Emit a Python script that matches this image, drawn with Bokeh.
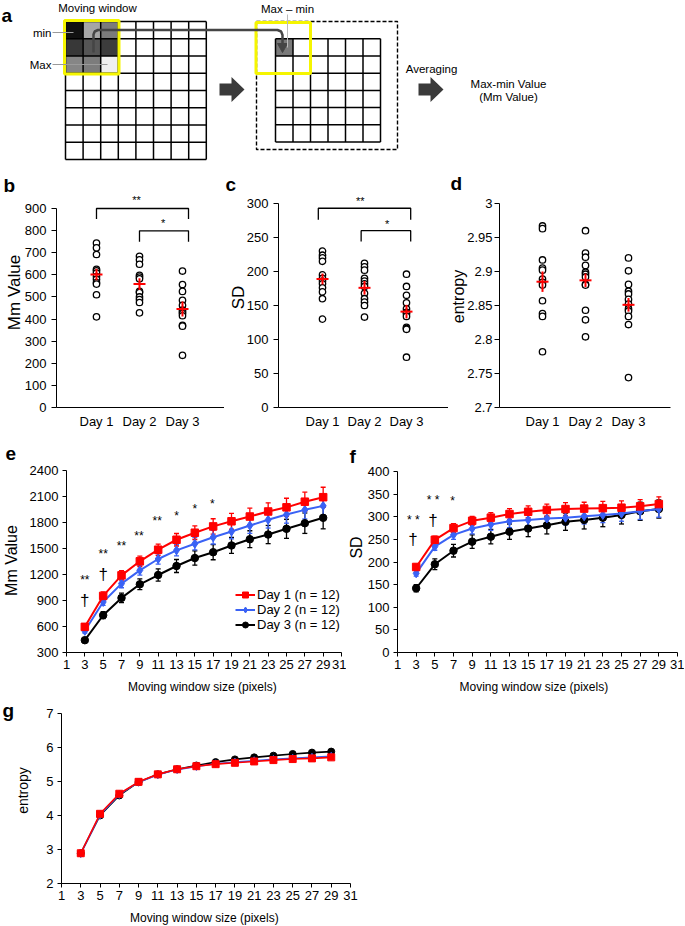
import math
from bokeh.plotting import figure
from bokeh.layouts import column, row
from bokeh.models import (Range1d, FixedTicker, Whisker, TeeHead,
                          ColumnDataSource, Legend, LegendItem, CustomJSTickFormatter)
from bokeh.core.properties import value
from bokeh.embed import file_html
from bokeh.resources import INLINE

FONT = "Liberation Sans"
RED = "#ff0000"
BLUE = "#3a62f5"
BLACK = "#000000"

# ---------------- data ----------------
days = ["Day 1", "Day 2", "Day 3"]
day_pos = [1, 2, 3]

mm_day1 = [744, 722, 692, 625, 618, 608, 592, 580, 565, 558, 510, 410]
mm_day2 = [684, 668, 648, 598, 590, 582, 525, 520, 500, 488, 475, 428]
mm_day3 = [617, 556, 525, 485, 462, 440, 432, 425, 415, 372, 368, 236]
mm_mean = [602, 558, 445]
mm_sem = [26, 27, 34]

sd_day1 = [230, 224, 220, 215, 195, 190, 186, 182, 176, 170, 160, 130]
sd_day2 = [212, 207, 202, 190, 186, 182, 178, 168, 160, 155, 150, 133]
sd_day3 = [196, 178, 165, 154, 145, 140, 138, 134, 118, 116, 115, 74]
sd_mean = [189, 176, 141]
sd_sem = [8, 10, 10]

ent_day1 = [2.967, 2.963, 2.917, 2.905, 2.902, 2.889, 2.884, 2.880, 2.857, 2.838, 2.834, 2.782]
ent_day2 = [2.960, 2.927, 2.921, 2.909, 2.899, 2.896, 2.892, 2.881, 2.880, 2.843, 2.829, 2.804]
ent_day3 = [2.920, 2.901, 2.881, 2.871, 2.867, 2.859, 2.852, 2.845, 2.842, 2.834, 2.822, 2.744]
ent_mean = [2.885, 2.887, 2.851]
ent_sem = [0.015, 0.010, 0.010]

win_sizes = [3, 5, 7, 9, 11, 13, 15, 17, 19, 21, 23, 25, 27, 29]

mmw_day1 = [596, 953, 1190, 1352, 1486, 1601, 1682, 1755, 1814, 1869, 1927, 1975, 2040, 2092]
mmw_day2 = [550, 883, 1095, 1248, 1379, 1479, 1555, 1630, 1696, 1765, 1831, 1892, 1946, 1992]
mmw_day3 = [442, 730, 930, 1087, 1194, 1298, 1390, 1457, 1535, 1607, 1661, 1727, 1792, 1854]
mmw_err1 = [30, 45, 55, 60, 65, 72, 78, 88, 92, 96, 100, 105, 110, 115]
mmw_err2 = [25, 40, 48, 55, 60, 65, 72, 78, 85, 90, 95, 100, 105, 110]
mmw_err3 = [22, 40, 55, 62, 70, 75, 82, 87, 92, 98, 105, 110, 118, 127]

sdw_day1 = [189, 249, 275, 291, 298, 306, 311, 315, 317, 318, 319, 320, 323, 328]
sdw_day2 = [175, 234, 260, 274, 283, 290, 293, 296, 298, 301, 304, 307, 312, 317]
sdw_day3 = [142, 195, 225, 245, 256, 267, 274, 281, 289, 293, 298, 304, 312, 317]
sdw_err1 = [6, 8, 10, 10, 11, 12, 13, 13, 14, 14, 15, 15, 15, 16]
sdw_err2 = [6, 8, 10, 12, 13, 14, 15, 16, 16, 17, 17, 17, 18, 18]
sdw_err3 = [8, 12, 14, 15, 16, 17, 18, 19, 19, 20, 20, 20, 20, 20]

entw_day1 = [2.89, 4.05, 4.64, 4.99, 5.21, 5.36, 5.45, 5.51, 5.55, 5.59, 5.63, 5.66, 5.68, 5.71]
entw_day2 = [2.88, 4.02, 4.62, 4.98, 5.20, 5.35, 5.44, 5.52, 5.57, 5.61, 5.65, 5.68, 5.71, 5.74]
entw_day3 = [2.89, 4.00, 4.59, 4.98, 5.21, 5.36, 5.47, 5.57, 5.65, 5.71, 5.76, 5.81, 5.85, 5.88]

legend_labels = ["Day 1 (n = 12)", "Day 2 (n = 12)", "Day 3 (n = 12)"]
xlabel_text = "Moving window size  (pixels)"

# significance annotations (text, x, y)
b_brackets = [(1.0, 3.14, 900, 852), (2.0, 3.14, 799, 750)]
b_stars = [("**", 1.93, 938), ("*", 2.55, 833)]
c_brackets = [(0.9, 3.1, 293, 276), (1.92, 3.1, 260, 244)]
c_stars = [("**", 1.9, 304), ("*", 2.54, 270)]
e_stars = [("**", 3, 1140), ("**", 5, 1440), ("**", 7, 1532), ("**", 8.9, 1640),
           ("**", 10.9, 1812), ("*", 13, 1870), ("*", 15, 1954), ("*", 16.9, 2012)]
e_daggers = [("\u2020", 3, 900), ("\u2020", 5, 1202)]
f_stars = [("* *", 2.7, 293), ("* *", 4.8, 336), ("*", 6.9, 334)]
f_daggers = [("\u2020", 2.67, 250), ("\u2020", 4.79, 291)]

# schematic (panel a)
grid_left_n = 8
grid_right_n = 6
window_shades = [["#111111", "#a6a6a6", "#7b7b7b"],
                 ["#383838", "#555555", "#3c3c3c"],
                 ["#868686", "#7c7c7c", "#efefef"]]


# ---------------- helpers ----------------
def make_fig(cx0, cy0, W, H, inner, xr, yr):
    """Canvas at (cx0, cy0) size WxH in picture pixels; axes span `inner`."""
    fl, fr, ft, fb = inner
    sx = (xr[1] - xr[0]) / (fr - fl)
    sy = (yr[1] - yr[0]) / (fb - ft)
    X0 = xr[0] - (fl - cx0) * sx
    X1 = xr[1] + (cx0 + W - fr) * sx
    Y0 = yr[0] - (cy0 + H - fb) * sy
    Y1 = yr[1] + (ft - cy0) * sy
    p = figure(width=W, height=H, x_range=Range1d(X0, X1), y_range=Range1d(Y0, Y1),
               output_backend="svg", toolbar_location=None, min_border=0)
    p.outline_line_color = None
    p.xgrid.visible = False
    p.ygrid.visible = False
    p.xaxis.fixed_location = yr[0]
    p.yaxis.fixed_location = xr[0]
    p.xaxis.bounds = (xr[0], xr[1])

    def to_data(rx, ry):
        return (xr[0] + (rx - fl) * sx, yr[0] + (fb - ry) * sy)
    return p, to_data


def style_axis(ax, tick_out, size="13px", standoff=4):
    ax.axis_line_color = "black"
    ax.axis_line_width = 1
    ax.major_tick_line_color = "black" if tick_out else None
    ax.major_tick_out = tick_out
    ax.major_tick_in = 0
    ax.minor_tick_line_color = None
    ax.major_label_text_font = FONT
    ax.major_label_text_font_size = size
    ax.major_label_text_color = "black"
    ax.major_label_standoff = standoff


def add_label(p, to_data, rx, ry, text, size, bold=False, angle=0.0, align="left"):
    x, y = to_data(rx, ry)
    p.text(x=[x], y=[y], text=[text], text_font=value(FONT), text_font_size=value(size),
           text_font_style="bold" if bold else "normal", angle=angle,
           text_align=align, text_baseline="middle", text_color="black")


def add_texts(p, items, size):
    p.text(x=[t[1] for t in items], y=[t[2] for t in items], text=[t[0] for t in items],
           text_font=value(FONT), text_font_size=value(size), text_align="center",
           text_baseline="middle", text_color="black")


def dot_panel(p, groups, means, sems, yticks, ybounds, brackets, stars, fmt=None, ystand=5):
    for pos, vals in zip(day_pos, groups):
        p.scatter(x=[pos] * len(vals), y=vals, marker="circle", size=6.4,
                  fill_color="white", line_color="black", line_width=1.3)
    p.segment(x0=day_pos, y0=[m - s for m, s in zip(means, sems)],
              x1=day_pos, y1=[m + s for m, s in zip(means, sems)],
              line_color=RED, line_width=2)
    p.scatter(x=day_pos, y=means, marker="dash", size=12, line_color=RED, line_width=2)
    for xl, xr_, yt, yb in brackets:
        p.line(x=[xl, xl, xr_, xr_], y=[yb, yt, yt, yb], line_color="black", line_width=1.3)
    if stars:
        add_texts(p, stars, "11px")
    p.xaxis.ticker = FixedTicker(ticks=day_pos)
    p.xaxis.major_label_overrides = {k: v for k, v in zip(day_pos, days)}
    style_axis(p.xaxis, 0, "13px", 6)
    p.yaxis.ticker = FixedTicker(ticks=yticks)
    p.yaxis.bounds = ybounds
    style_axis(p.yaxis, 5, "13px", ystand)
    if fmt is not None:
        p.yaxis.formatter = fmt


def curve_panel(p, series, errs, lw, sizes):
    styles = [(BLACK, "circle", sizes[2]), (BLUE, "diamond", sizes[1]), (RED, "square", sizes[0])]
    rends = []
    for vals, err, (color, marker, size) in zip(series[::-1], errs[::-1], styles):
        if err is not None:
            src = ColumnDataSource(dict(x=win_sizes,
                                        lo=[v - e for v, e in zip(vals, err)],
                                        hi=[v + e for v, e in zip(vals, err)]))
            p.add_layout(Whisker(source=src, base="x", lower="lo", upper="hi",
                                 line_color=color, line_width=1.3,
                                 upper_head=TeeHead(size=5, line_color=color, line_width=1.3),
                                 lower_head=TeeHead(size=5, line_color=color, line_width=1.3)))
        l = p.line(x=win_sizes, y=vals, line_color=color, line_width=lw)
        s = p.scatter(x=win_sizes, y=vals, marker=marker, size=size,
                      fill_color=color, line_color=color)
        rends.append((l, s))
    return rends[::-1]


def xy_axes(p, yticks, ybounds, ysize="13px"):
    p.xaxis.ticker = FixedTicker(ticks=list(range(1, 32, 2)))
    style_axis(p.xaxis, 4, "13px", 3)
    p.yaxis.ticker = FixedTicker(ticks=yticks)
    p.yaxis.bounds = ybounds
    style_axis(p.yaxis, 4, ysize, 4)


# ---------------- panel a (schematic) ----------------
pa = figure(width=684, height=165, x_range=Range1d(0, 684), y_range=Range1d(165, 0),
            output_backend="svg", toolbar_location=None, min_border=0,
            x_axis_location=None, y_axis_location=None)
pa.outline_line_color = None
pa.grid.visible = False

Lx0, Ly0, Lcw, Lch = 65, 21, 17.6, 17.25
for r_i, shades in enumerate(window_shades):
    for c_i, col in enumerate(shades):
        pa.quad(left=Lx0 + c_i * Lcw, right=Lx0 + (c_i + 1) * Lcw,
                top=Ly0 + r_i * Lch, bottom=Ly0 + (r_i + 1) * Lch,
                fill_color=col, line_color=None)
for i in range(grid_left_n + 1):
    pa.segment(x0=Lx0 + i * Lcw, y0=Ly0, x1=Lx0 + i * Lcw, y1=Ly0 + grid_left_n * Lch,
               line_color="black", line_width=1.5)
    pa.segment(x0=Lx0, y0=Ly0 + i * Lch, x1=Lx0 + grid_left_n * Lcw, y1=Ly0 + i * Lch,
               line_color="black", line_width=1.5)

Rx0, Ry0, Rcw, Rch = 275, 38.3, 17.5, 17.2
pa.quad(left=Rx0, right=Rx0 + Rcw, top=Ry0, bottom=Ry0 + Rch, fill_color="#7a7a7a", line_color=None)
for i in range(grid_right_n + 1):
    pa.segment(x0=Rx0 + i * Rcw, y0=Ry0, x1=Rx0 + i * Rcw, y1=Ry0 + grid_right_n * Rch,
               line_color="black", line_width=1.5)
    pa.segment(x0=Rx0, y0=Ry0 + i * Rch, x1=Rx0 + grid_right_n * Rcw, y1=Ry0 + i * Rch,
               line_color="black", line_width=1.5)
pa.quad(left=256, right=397, top=21, bottom=149, fill_color=None, line_color="black",
        line_width=1.4, line_dash="4 2")
# yellow moving windows
pa.quad(left=64, right=118.5, top=20, bottom=73.5, fill_color=None, line_color="#f5f500", line_width=3)
pa.quad(left=255.5, right=310, top=22, bottom=73, fill_color=None, line_color="#f5f500", line_width=3)
# connector arrow
pa.line(x=[93, 93, 94.2, 97.5, 277, 280.6, 282, 282], y=[52, 34, 31, 29.5, 29.5, 31, 34.5, 44],
        line_color="#454545", line_width=2.5)
pa.patch(x=[277, 287, 282], y=[43, 43, 52], fill_color="#454545", line_color="#454545")
# leader lines
pa.segment(x0=[52, 52], y0=[32, 64], x1=[73, 107], y1=[32, 64], line_color="#9a9a9a", line_width=1)
pa.segment(x0=287, y0=14, x1=287, y1=47, line_color="#bbbbbb", line_width=1)
# block arrows
for bx in [219, 418]:
    pa.patch(x=[bx, bx + 12, bx + 12, bx + 25, bx + 12, bx + 12, bx],
             y=[83, 83, 76.5, 89, 101.5, 95, 95], fill_color="#3a3a3a", line_color=None)
pa.text(x=[97, 287, 51, 51, 431, 508, 508], y=[7.5, 8, 32, 64, 68, 83, 96],
        text=["Moving window", "Max \u2013 min", "min", "Max", "Averaging", "Max-min Value", "(Mm Value)"],
        text_align=["center", "center", "right", "right", "center", "center", "center"],
        text_baseline="middle", text_font=value(FONT), text_font_size=value("11.5px"), text_color="black")
pa.text(x=[1], y=[15], text=["a"], text_align="left", text_baseline="middle",
        text_font=value(FONT), text_font_size=value("19px"), text_font_style="bold", text_color="black")

# ---------------- panels b, c, d ----------------
pb, tb = make_fig(0, 165, 224, 267, (56, 228, 208, 407), (0.070, 4.070), (0, 900))
dot_panel(pb, [mm_day1, mm_day2, mm_day3], mm_mean, mm_sem, list(range(0, 901, 100)), (0, 900),
          b_brackets, b_stars)
add_label(pb, tb, 14, 292, "Mm Value", "17px", angle=math.pi / 2, align="center")
add_label(pb, tb, 3, 185, "b", "19px", bold=True)

pc, tc = make_fig(224, 165, 224, 267, (278, 450, 203, 407), (-0.048, 4.048), (0, 300))
dot_panel(pc, [sd_day1, sd_day2, sd_day3], sd_mean, sd_sem, list(range(0, 301, 50)), (0, 300),
          c_brackets, c_stars)
add_label(pc, tc, 238, 297, "SD", "17px", angle=math.pi / 2, align="center")
add_label(pc, tc, 225, 184, "c", "19px", bold=True)

pd_, td = make_fig(448, 165, 236, 267, (499, 670, 203, 407), (0.0, 3.977), (2.7, 3.0))
dot_panel(pd_, [ent_day1, ent_day2, ent_day3], ent_mean, ent_sem,
          [2.7, 2.75, 2.8, 2.85, 2.9, 2.95, 3.0], (2.7, 3.0), [], [],
          fmt=CustomJSTickFormatter(code="return String(Math.round(tick*100)/100);"), ystand=2)
add_label(pd_, td, 458, 296, "entropy", "16px", angle=math.pi / 2, align="center")
add_label(pd_, td, 450, 183, "d", "19px", bold=True)

# ---------------- panel e ----------------
pe, te = make_fig(0, 432, 346, 262, (66, 341, 470, 652), (1, 31), (300, 2400))
rend_e = curve_panel(pe, [mmw_day1, mmw_day2, mmw_day3], [mmw_err1, mmw_err2, mmw_err3], 2, (7.5, 9, 7.5))
add_texts(pe, e_stars, "12px")
add_texts(pe, e_daggers, "17px")
xy_axes(pe, list(range(300, 2401, 300)), (300, 2400))
legend = Legend(items=[LegendItem(label=lab, renderers=list(r)) for lab, r in zip(legend_labels, rend_e)],
                location=(235, 62), glyph_width=20, glyph_height=15, label_height=15,
                label_standoff=2, padding=0, spacing=0, margin=0, border_line_color=None,
                background_fill_alpha=0, label_text_font=FONT, label_text_font_size="13px",
                label_text_color="black")
pe.add_layout(legend)
add_label(pe, te, 11, 560, "Mm Value", "16px", angle=math.pi / 2, align="center")
add_label(pe, te, 5, 453, "e", "19px", bold=True)
add_label(pe, te, 203.5, 686, xlabel_text, "12px", align="center")

# ---------------- panel f ----------------
pf, tf = make_fig(346, 432, 338, 262, (397, 677, 471, 652), (1, 31), (0, 400))
curve_panel(pf, [sdw_day1, sdw_day2, sdw_day3], [sdw_err1, sdw_err2, sdw_err3], 2, (7.5, 9, 7.5))
add_texts(pf, f_stars, "12px")
add_texts(pf, f_daggers, "17px")
xy_axes(pf, list(range(0, 401, 50)), (0, 400))
add_label(pf, tf, 356, 547, "SD", "16px", angle=math.pi / 2, align="center")
add_label(pf, tf, 349, 456, "f", "19px", bold=True)
add_label(pf, tf, 535, 686, xlabel_text, "12px", align="center")

# ---------------- panel g ----------------
pg, tg = make_fig(0, 694, 360, 231, (61, 350, 713, 883), (1, 31), (2, 7))
curve_panel(pg, [entw_day1, entw_day2, entw_day3], [None, None, None], 1.6, (7, 8, 7))
xy_axes(pg, list(range(2, 8)), (2, 7))
add_label(pg, tg, 22, 790, "entropy", "14px", angle=math.pi / 2, align="center")
add_label(pg, tg, 2, 710, "g", "19px", bold=True)
add_label(pg, tg, 205.5, 917, xlabel_text, "12px", align="center")

layout = column(pa, row(pb, pc, pd_), row(pe, pf), pg)
open("out.html", "w").write(file_html(layout, INLINE))
